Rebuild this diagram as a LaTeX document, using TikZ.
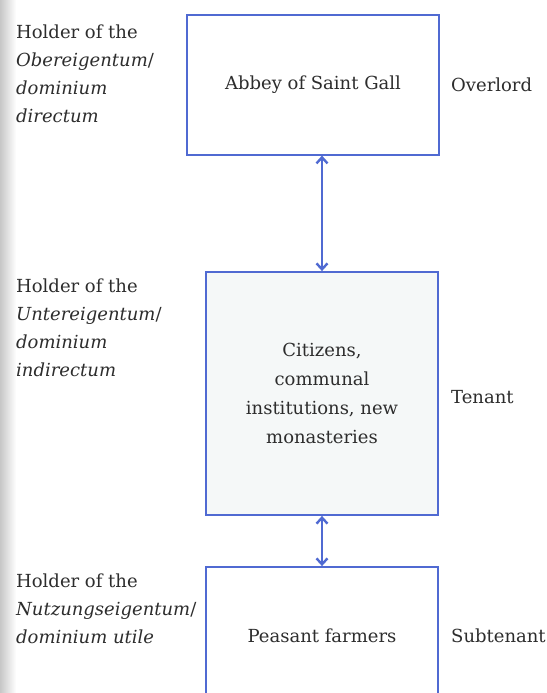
\documentclass[tikz,border=0pt]{standalone}
\usepackage{fontspec}
\setmainfont{DejaVu Serif}
\usetikzlibrary{arrows.meta}
\definecolor{boxblue}{RGB}{80,106,210}
\definecolor{inkgrey}{RGB}{45,45,45}
\definecolor{paletint}{RGB}{245,248,248}
\tikzset{
	holderbox/.style={draw=boxblue, line width=1.8pt, align=center, text=inkgrey, inner sep=0pt},
	sidetext/.style={text=inkgrey, align=left, inner sep=0pt, font=\fontsize{18}{28}\selectfont},
	tenure/.style={draw=boxblue, line width=2.4pt, arrows={Straight Barb[length=6pt,width=11pt]-Straight Barb[length=6pt,width=11pt]}}
}
\newcommand{\holder}[2]{Holder of the\\\textit{#1}/\\\textit{#2}}
\begin{document}
\begin{tikzpicture}[x=1pt, y=-1pt, font=\fontsize{18}{29}\selectfont]
				
					\useasboundingbox[fill=white] (0,0) rectangle (546,693);
					\shade[left color=black!22, right color=white] (0,0) rectangle (16,693);
					
					\node[holderbox, fill=white, minimum width=252pt, minimum height=140pt] (abbey) at (313,84.7) {Abbey of Saint Gall};
					
					\node[holderbox, fill=paletint, minimum width=232pt, minimum height=243pt] (citizens) at (322,393.5) {Citizens,\\communal\\institutions, new\\monasteries};
					
					\node[holderbox, fill=white, minimum width=232pt, minimum height=138pt] (peasants) at (322,636) {Peasant farmers};
					
					\draw[tenure] (abbey.south -| citizens.north) -- (citizens.north);
					\draw[tenure] (citizens.south) -- (peasants.north);
					
					\node[sidetext, anchor=north west] (upper) at (16,25) {\holder{Obereigentum}{dominium}\\\textit{directum}};
					\node[sidetext, anchor=north west] (middle) at (16,279) {\holder{Untereigentum}{dominium}\\\textit{indirectum}};
					\node[sidetext, anchor=north west] (lower) at (16,574) {Holder of the\\\textit{Nutzungseigentum}/\\\textit{dominium utile}};
					
					\node[sidetext, anchor=west] (overlord) at (451,84.7) {Overlord};
					\node[sidetext, anchor=west] (tenant) at (451,397) {Tenant};
					\node[sidetext, anchor=west] (subtenant) at (451,636) {Subtenant};
										
				\end{tikzpicture}
\end{document}
